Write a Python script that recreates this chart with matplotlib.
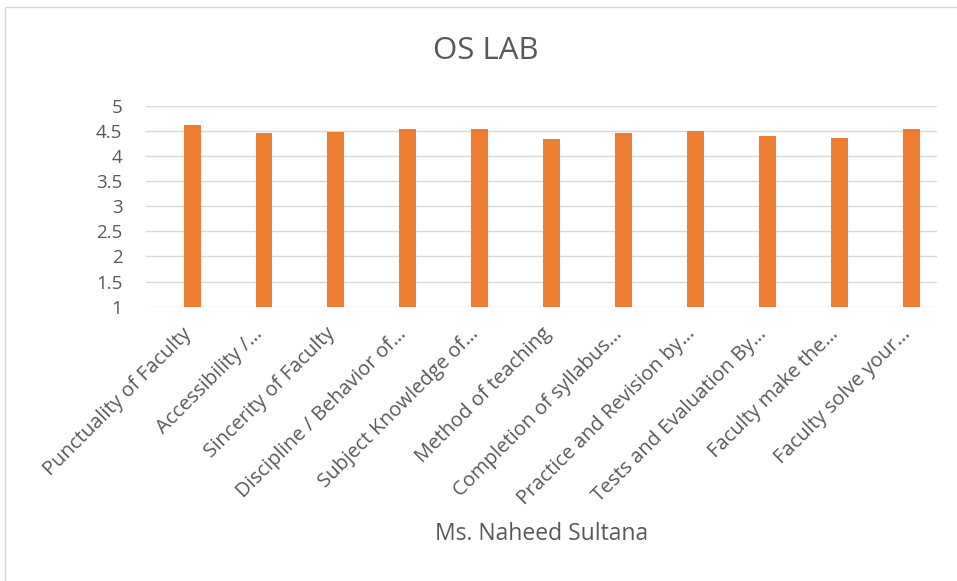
import matplotlib
matplotlib.use("Agg")
import matplotlib.pyplot as plt
from matplotlib.patches import Rectangle
from matplotlib.transforms import ScaledTranslation

categories = [
    "Punctuality of Faculty",
    "Accessibility /\u2026",
    "Sincerity of Faculty",
    "Discipline / Behavior of\u2026",
    "Subject Knowledge of\u2026",
    "Method of teaching",
    "Completion of syllabus\u2026",
    "Practice and Revision by\u2026",
    "Tests and Evaluation By\u2026",
    "Faculty make the\u2026",
    "Faculty solve your\u2026",
]
values = [4.62, 4.45, 4.47, 4.53, 4.53, 4.33, 4.45, 4.50, 4.39, 4.35, 4.53]
yticks = [1, 1.5, 2, 2.5, 3, 3.5, 4, 4.5, 5]
ytick_labels = ["1", "1.5", "2", "2.5", "3", "3.5", "4", "4.5", "5"]
title = "OS LAB"
xlabel = "Ms. Naheed Sultana"

FONT = ["Open Sans", "DejaVu Sans"]
TXT = "#595959"
plt.rcParams["font.family"] = FONT

W, H = 957, 581
fig = plt.figure(figsize=(W / 100, H / 100), dpi=100)
fig.patch.set_facecolor("white")

# chart border
fig.patches.append(Rectangle((5 / W, -0.01), 1.2, (581 - 7) / H + 0.01,
                             transform=fig.transFigure, fill=False,
                             edgecolor="#d9d9d9", linewidth=1.0))

left, right = 146 / W, 937 / W
bottom, top = (H - 306.7) / H, (H - 105.7) / H
ax = fig.add_axes([left, bottom, right - left, top - bottom])

x = list(range(len(categories)))
ax.bar(x, values, width=0.236, color="#ED7D31", zorder=3, bottom=0)
ax.set_ylim(1, 5)
ax.set_xlim(-0.64, len(categories) - 1 + 0.354)
ax.set_yticks(yticks)
ax.set_yticklabels(ytick_labels)
ax.yaxis.grid(True, color="#d9d9d9", linewidth=1.0, zorder=0)
ax.set_axisbelow(True)
for s in ax.spines.values():
    s.set_visible(False)
ax.tick_params(axis="y", length=0, pad=17, labelsize=13.5, labelcolor=TXT)
ax.tick_params(axis="x", length=0, pad=6, labelsize=14.5, labelcolor=TXT)
ax.set_xticks(x)
ax.set_xticklabels(categories, rotation=45, ha="right", rotation_mode="anchor")
offset = ScaledTranslation(-11 / 100, -9 / 100, fig.dpi_scale_trans)
for lab in ax.get_xticklabels():
    lab.set_transform(lab.get_transform() + offset)

fig.text(486 / W, 1 - 51 / H, title, ha="center", va="center",
         fontsize=22.5, color=TXT)
fig.text(542 / W, 1 - 534 / H, xlabel, ha="center", va="center",
         fontsize=16.5, color=TXT)

fig.savefig("out.png", dpi=100, facecolor="white")
